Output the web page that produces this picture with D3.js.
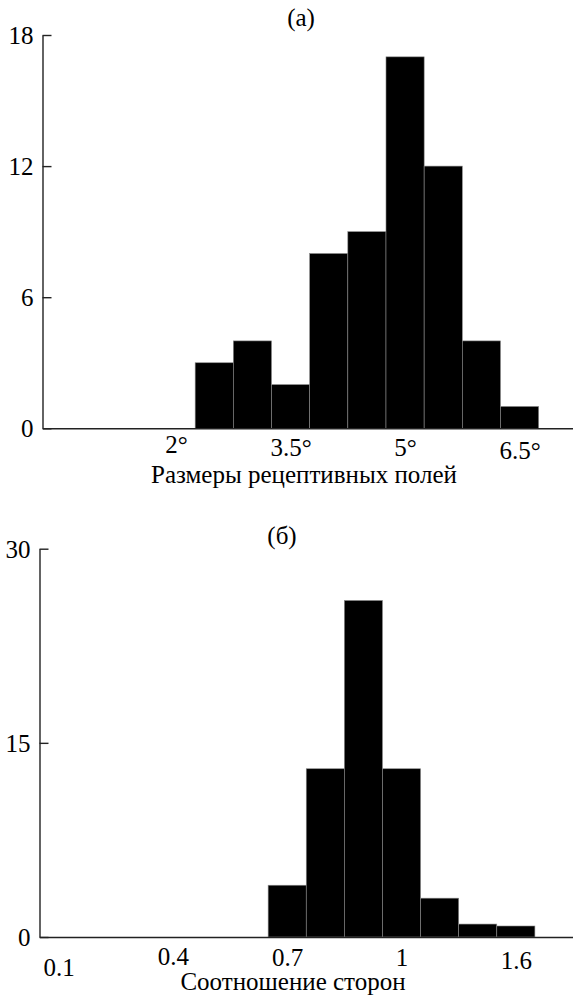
<!DOCTYPE html>
<html>
<head>
<meta charset="utf-8">
<script src="https://cdn.jsdelivr.net/npm/d3@7"></script>
<style>
  body { margin: 0; background: #fff; }
</style>
</head>
<body>
<svg id="chart" width="573" height="995"></svg>
<script>

// (a) receptive field sizes, bins of 0.5 deg
let sizeBinStarts = [2.25, 2.75, 3.25, 3.75, 4.25, 4.75, 5.25, 5.75, 6.25];
let sizeBinWidth = 0.5;
let sizeCounts = [3, 4, 2, 8, 9, 17, 12, 4, 1];
let sizeTickValues = [2, 3.5, 5, 6.5];
let sizeTickLabels = ["2°", "3.5°", "5°", "6.5°"];
let sizeYTicks = [0, 6, 12, 18];

// (b) aspect ratio, bins of 0.1
let ratioBinStarts = [0.65, 0.75, 0.85, 0.95, 1.05, 1.15, 1.25];
let ratioBinWidth = 0.1;
let ratioCounts = [4, 13, 26, 13, 3, 1, 0.85];
let ratioTickValues = [0.1, 0.4, 0.7, 1.0, 1.3];
let ratioTickLabels = ["0.1", "0.4", "0.7", "1", "1.6"];
let ratioYTicks = [0, 15, 30];

let svg = d3.select("#chart");
let serif = "Liberation Serif";

function draw_hist(p){

    let g = svg.append("g");

    let x = d3.scaleLinear().domain(p.xDomain).range([p.left, 573]);
    let y = d3.scaleLinear().domain([0, p.yMax]).range([p.bottom, p.top]);

    g.selectAll("rect")
        .data(p.counts)
        .enter().append("rect")
        .attr("x", (d, i) => x(p.starts[i]))
        .attr("width", (d, i) => x(p.starts[i] + p.binWidth) - x(p.starts[i]))
        .attr("y", d => y(d))
        .attr("height", d => y(0) - y(d))
        .style("fill", "#000")
        .style("stroke", "#8a8a8a")
        .style("stroke-width", 0.6);

    // y axis, ticks pointing inside
    let yAxis = d3.axisLeft(y)
        .tickValues(p.yTicks)
        .tickSizeInner(-9)
        .tickSizeOuter(0)
        .tickPadding(9)
        .tickFormat(d3.format("d"));
    let ya = g.append("g")
        .attr("transform", "translate(" + p.left + ",0)")
        .call(yAxis);
    ya.selectAll("text").attr("dy", "0.34em");

    // x axis, no tick marks
    let xAxis = d3.axisBottom(x)
        .tickValues(p.tickValues)
        .tickSize(0)
        .tickPadding(p.xPad)
        .tickFormat((d, i) => p.tickLabels[i]);
    let xa = g.append("g")
        .attr("transform", "translate(0," + p.bottom + ")")
        .call(xAxis);
    xa.selectAll("text")
        .attr("dy", (d, i) => (0.71 + p.labelShift[i]) + "em");

    g.selectAll(".domain").style("stroke", "#222").style("stroke-width", 1.4);
    g.selectAll(".tick line").style("stroke", "#222").style("stroke-width", 1.4);

    g.append("text")
        .attr("x", p.titleX)
        .attr("y", p.titleY)
        .attr("text-anchor", "middle")
        .text(p.title);

    g.append("text")
        .attr("x", p.xlabelX)
        .attr("y", p.xlabelY)
        .attr("text-anchor", "middle")
        .text(p.xlabel);

    // same face everywhere
    ya.attr("font-family", null).attr("font-size", null);
    xa.attr("font-family", null).attr("font-size", null);
    g.selectAll("text")
        .attr("font-family", serif)
        .attr("font-size", 25)
        .attr("fill", "#000");
};

draw_hist({
    starts: sizeBinStarts, binWidth: sizeBinWidth, counts: sizeCounts,
    tickValues: sizeTickValues, tickLabels: sizeTickLabels, yTicks: sizeYTicks,
    labelShift: [0, 0.1, 0.12, 0.25], xPad: 7,
    xDomain: [0.25, 7.2], yMax: 18,
    left: 42.5, top: 35, bottom: 428.3,
    title: "(a)", titleX: 301, titleY: 26,
    xlabel: "Размеры рецептивных полей", xlabelX: 304, xlabelY: 483
});

draw_hist({
    starts: ratioBinStarts, binWidth: ratioBinWidth, counts: ratioCounts,
    tickValues: ratioTickValues, tickLabels: ratioTickLabels, yTicks: ratioYTicks,
    labelShift: [0.45, 0, 0.03, 0.03, 0.15], xPad: 10,
    xDomain: [0.05, 1.45], yMax: 30,
    left: 39.5, top: 548.7, bottom: 937,
    title: "(б)", titleX: 282, titleY: 544,
    xlabel: "Соотношение сторон", xlabelX: 293, xlabelY: 990
});

</script>
</body>
</html>
